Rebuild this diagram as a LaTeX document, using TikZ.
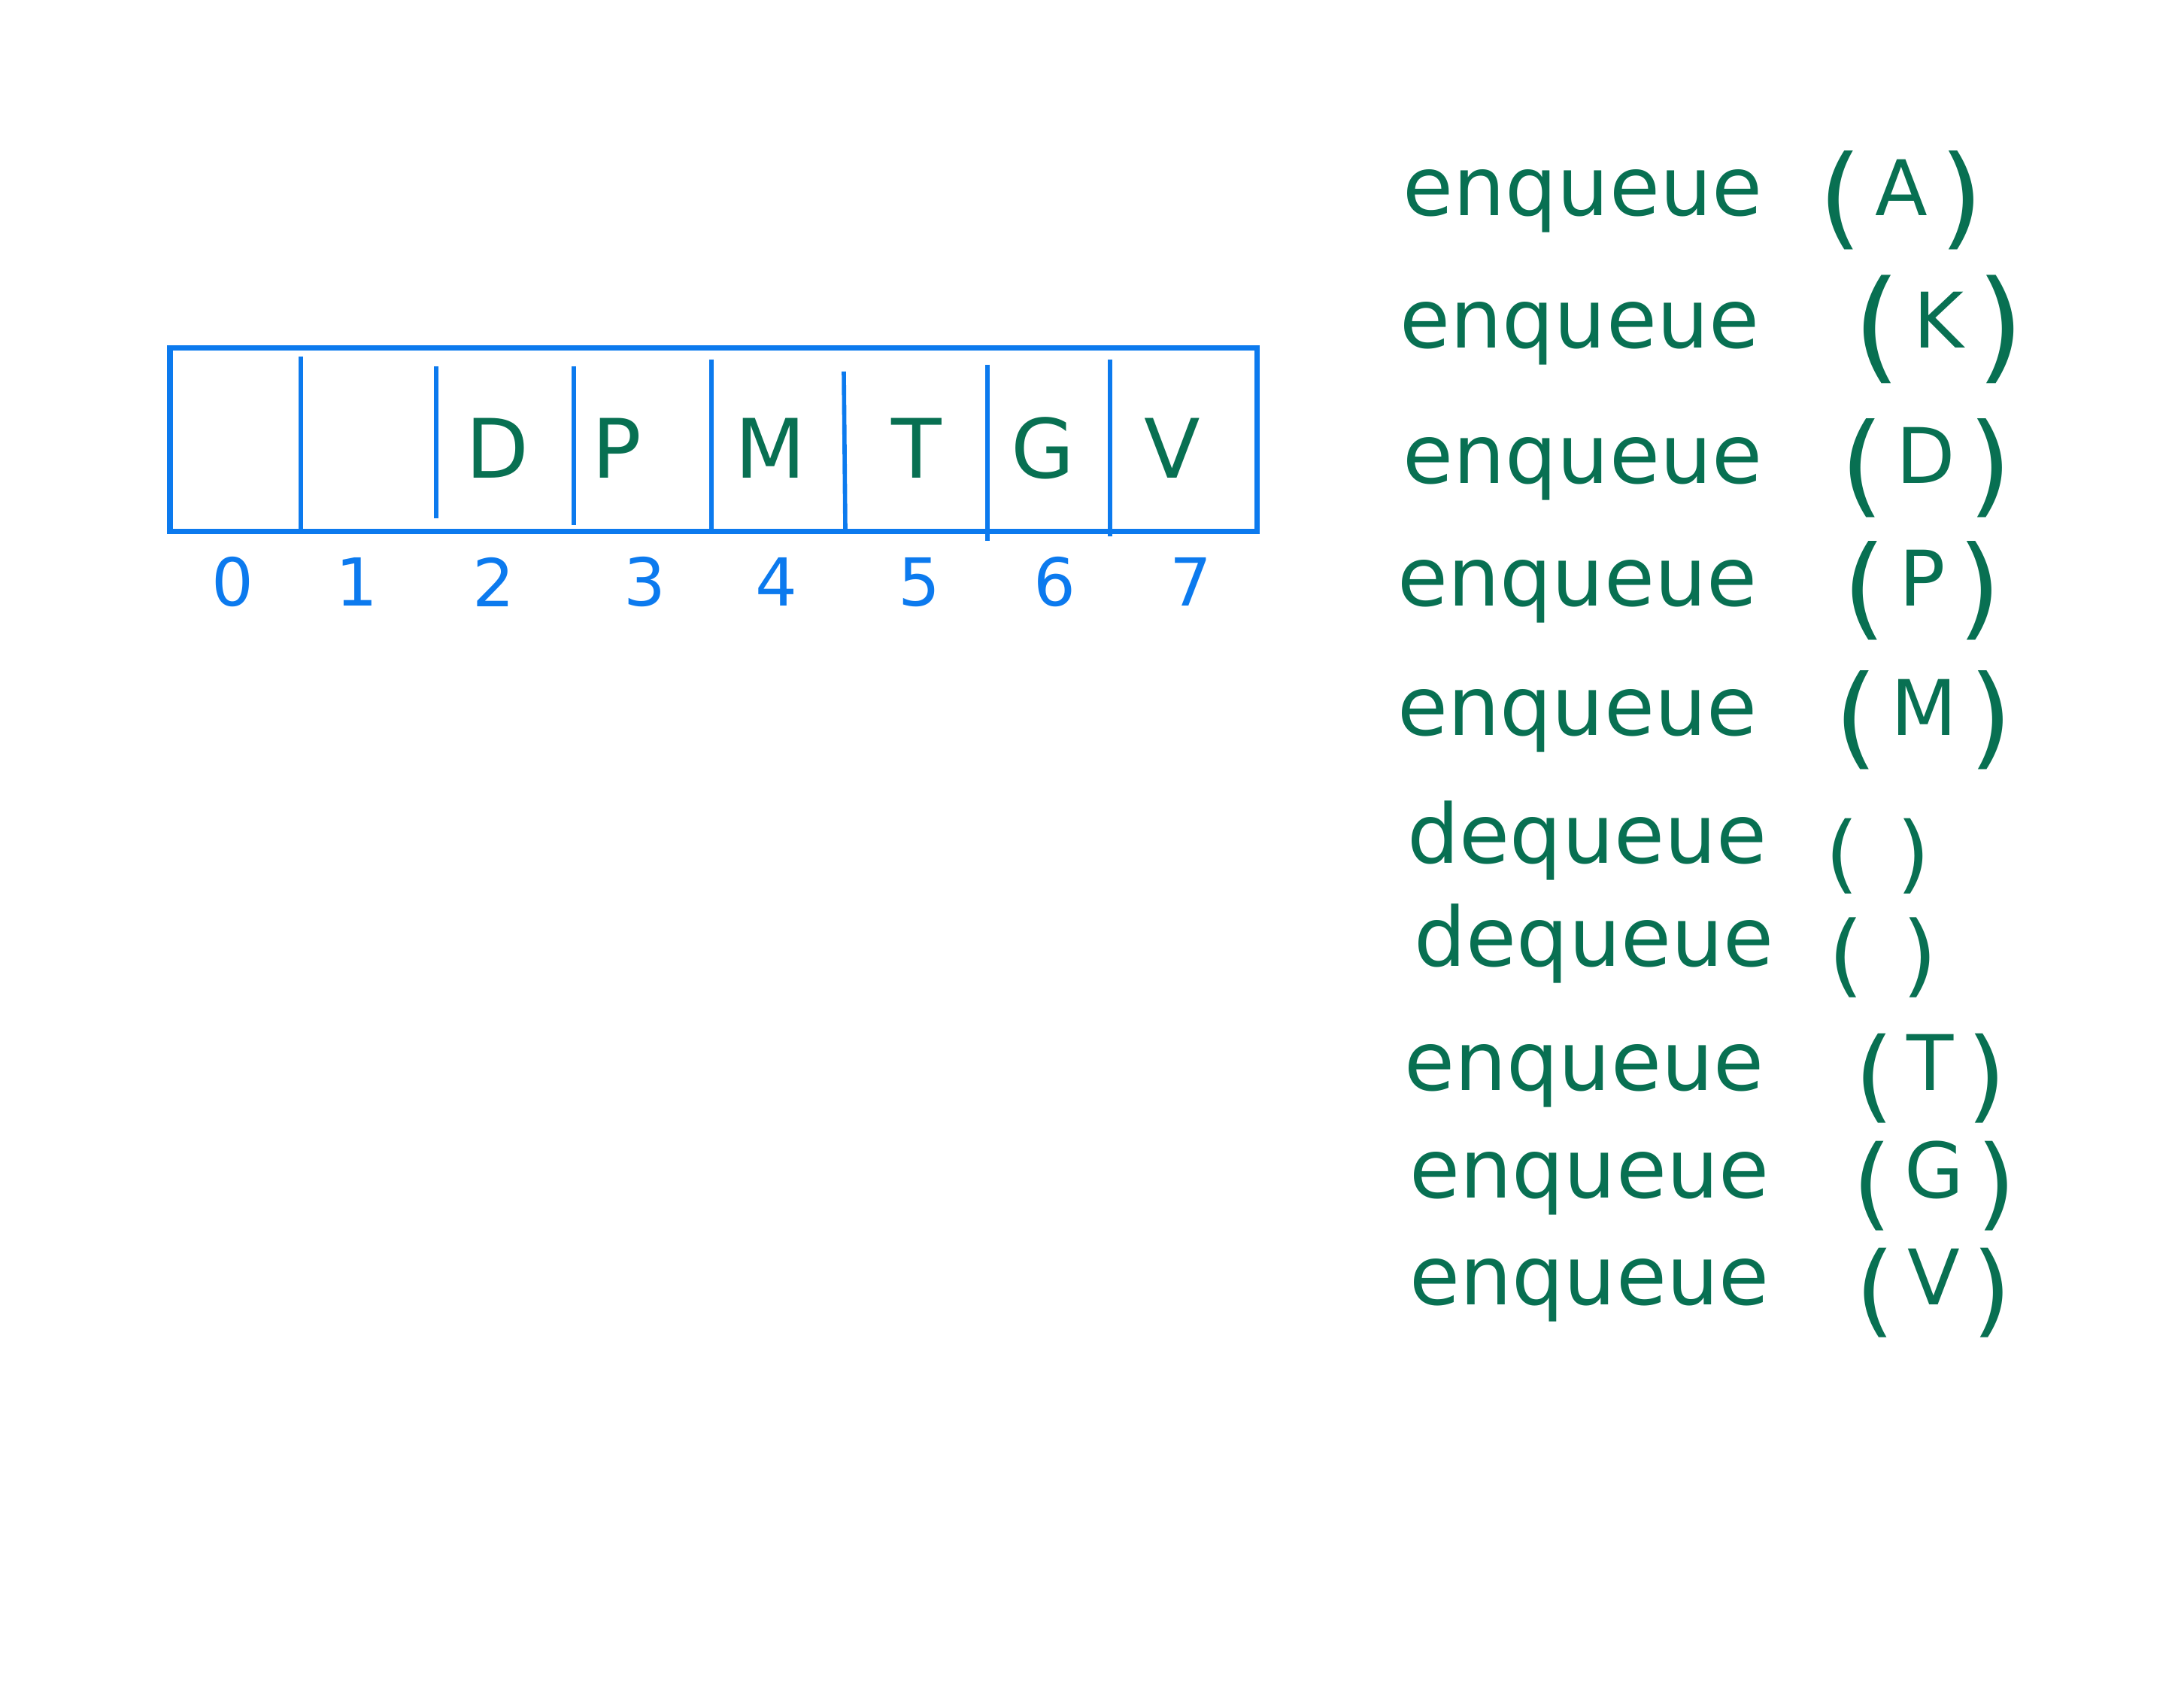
\documentclass[tikz,border=0pt]{standalone}
\usepackage{fontspec}
\usepackage{xcolor}
\usepackage{tikz}
\usetikzlibrary{positioning}
\newfontfamily\handfont{DejaVu Sans}
\definecolor{penblue}{RGB}{12,122,238}
\definecolor{pengreen}{RGB}{8,112,82}
\newcommand{\bigpar}[2]{\raisebox{-0.26cm}{\fontsize{#1}{#1}\selectfont#2}}
\newcommand{\parg}[2][42]{\bigpar{#1}(\,#2\,\bigpar{#1})}

\begin{document}
\begin{tikzpicture}[every node/.style={inner sep=0pt},
  cellval/.style={text=pengreen,font=\handfont\fontsize{31}{36}\selectfont},
  idx/.style={text=penblue,font=\handfont\fontsize{25}{30}\selectfont},
  op/.style={text=pengreen,anchor=base west,font=\handfont\fontsize{31}{36}\selectfont},
  arg/.style={text=pengreen,anchor=base,font=\handfont\fontsize{29}{34}\selectfont},
  wall/.style={draw=penblue,line width=1.6pt}]
\useasboundingbox (0,0) rectangle (29.04,22.44);
% the array
\draw[penblue,line width=2pt] (2.26,15.37) rectangle (16.71,17.81);
\draw[wall] (4.00,17.70)--(4.00,15.37);
\draw[wall] (5.80,17.57)--(5.80,15.55);
\draw[wall] (7.63,17.57)--(7.63,15.46);
\draw[wall] (9.46,17.66)--(9.46,15.37);
\draw[wall] (11.22,17.50)--(11.24,15.40);
\draw[wall] (13.13,17.59)--(13.13,15.25);
\draw[wall] (14.76,17.66)--(14.76,15.31);
\node[cellval] (c2) at (6.61,16.48) {D};
\node[cellval] (c3) at (8.20,16.48) {P};
\node[cellval] (c4) at (10.24,16.48) {M};
\node[cellval] (c5) at (12.19,16.48) {T};
\node[cellval] (c6) at (13.87,16.48) {G};
\node[cellval] (c7) at (15.59,16.48) {V};
% indices
\node[idx] (i0) at (3.09,14.70) {0};
\node[idx] (i1) at (4.74,14.70) {1};
\node[idx] (i2) at (6.56,14.70) {2};
\node[idx] (i3) at (8.57,14.70) {3};
\node[idx] (i4) at (10.32,14.70) {4};
\node[idx] (i5) at (12.22,14.70) {5};
\node[idx] (i6) at (14.02,14.70) {6};
\node[idx] (i7) at (15.83,14.70) {7};
% operations
\node[op] (op1) at (18.65,19.57) {enqueue};
\node[arg] (arg1) at (25.28,19.57) {\parg{A}};
\node[op] (op2) at (18.61,17.81) {enqueue};
\node[arg] (arg2) at (25.78,17.81) {\parg[46]{K}};
\node[op] (op3) at (18.65,16.01) {enqueue};
\node[arg] (arg3) at (25.61,16.01) {\parg{D}};
\node[op] (op4) at (18.58,14.38) {enqueue};
\node[arg] (arg4) at (25.56,14.38) {\parg{P}};
\node[op] (op5) at (18.58,12.66) {enqueue};
\node[arg] (arg5) at (25.58,12.66) {\parg{M}};
\node[op] (op6) at (18.71,10.96) {dequeue};
\node[arg] (arg6) at (24.97,10.96) {\parg[32]{\,}};
\node[op] (op7) at (18.80,9.59) {dequeue};
\node[arg] (arg7) at (25.04,9.59) {\parg[34]{\,}};
\node[op] (op8) at (18.67,7.94) {enqueue};
\node[arg] (arg8) at (25.67,7.94) {\parg[38]{T}};
\node[op] (op9) at (18.74,6.51) {enqueue};
\node[arg] (arg9) at (25.72,6.51) {\parg[38]{G}};
\node[op] (op10) at (18.74,5.09) {enqueue};
\node[arg] (arg10) at (25.71,5.09) {\parg[38]{V}};
\end{tikzpicture}
\end{document}
